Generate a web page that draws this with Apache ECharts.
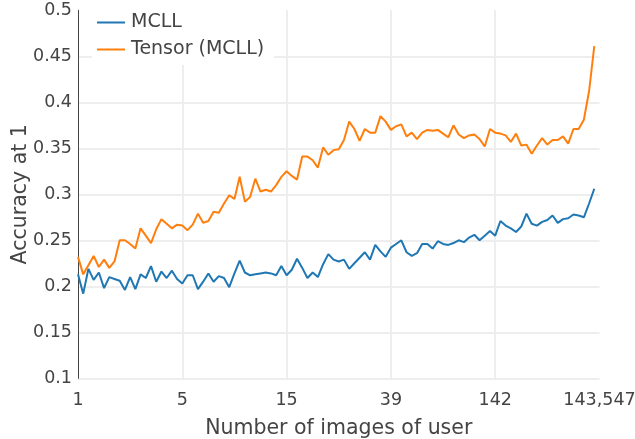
<!DOCTYPE html>
<html>
<head>
<meta charset="utf-8">
<script src="https://cdn.jsdelivr.net/npm/echarts@6/dist/echarts.min.js"></script>
<style>
  html, body { margin: 0; padding: 0; background: #fff; }
  #chart { width: 635px; height: 439px; }
</style>
</head>
<body>
<div id="chart"></div>
<script>
// 100 bins of users, sorted by number of images
var xTickLabels = ['1', '5', '15', '39', '142', '143,547'];

var mcll = [
  0.213, 0.192, 0.219, 0.207, 0.215, 0.198, 0.210, 0.208, 0.206, 0.196,
  0.210, 0.197, 0.213, 0.209, 0.222, 0.205, 0.216, 0.209, 0.217, 0.208,
  0.203, 0.212, 0.212, 0.197, 0.205, 0.214, 0.205, 0.211, 0.209, 0.199,
  0.214, 0.228, 0.215, 0.212, 0.213, 0.214, 0.215, 0.214, 0.212, 0.222,
  0.212, 0.218, 0.230, 0.220, 0.209, 0.215, 0.210, 0.224, 0.235, 0.229,
  0.227, 0.229, 0.219, 0.225, 0.231, 0.237, 0.229, 0.245, 0.238, 0.232,
  0.242, 0.246, 0.250, 0.237, 0.233, 0.236, 0.246, 0.246, 0.241, 0.249,
  0.246, 0.245, 0.247, 0.250, 0.248, 0.253, 0.256, 0.250, 0.255, 0.260,
  0.255, 0.271, 0.266, 0.263, 0.259, 0.265, 0.279, 0.268, 0.266, 0.270,
  0.272, 0.277, 0.269, 0.273, 0.274, 0.278, 0.277, 0.275, 0.290, 0.306
];

var tensorMcll = [
  0.232, 0.213, 0.223, 0.233, 0.221, 0.229, 0.220, 0.227, 0.250, 0.250,
  0.246, 0.241, 0.263, 0.255, 0.247, 0.262, 0.273, 0.268, 0.263, 0.267,
  0.266, 0.261, 0.267, 0.279, 0.269, 0.271, 0.281, 0.280, 0.290, 0.299,
  0.295, 0.319, 0.292, 0.297, 0.317, 0.303, 0.305, 0.303, 0.310, 0.319,
  0.325, 0.320, 0.316, 0.341, 0.341, 0.337, 0.329, 0.351, 0.343, 0.348,
  0.349, 0.359, 0.379, 0.371, 0.358, 0.371, 0.367, 0.367, 0.385, 0.379,
  0.370, 0.374, 0.376, 0.363, 0.367, 0.360, 0.367, 0.370, 0.369, 0.370,
  0.366, 0.362, 0.375, 0.365, 0.361, 0.364, 0.365, 0.360, 0.352, 0.371,
  0.367, 0.366, 0.364, 0.357, 0.366, 0.353, 0.354, 0.344, 0.353, 0.361,
  0.354, 0.359, 0.359, 0.363, 0.355, 0.371, 0.371, 0.381, 0.412, 0.461
];

function pairs(arr) {
  return arr.map(function (v, i) { return [i, v]; });
}

var font = 'DejaVu Sans';
var myChart = echarts.init(document.getElementById('chart'));
myChart.setOption({
  animation: false,
  textStyle: { fontFamily: font, color: '#444' },
  grid: {
    left: 78, right: 35.5, top: 10.3, bottom: 60.7,
    containLabel: false,
    outerBoundsMode: 'none'
  },
  legend: {
    orient: 'vertical',
    left: 92,
    top: 0,
    padding: [13, 10, 6, 5],
    backgroundColor: '#fff',
    icon: 'rect',
    itemWidth: 28,
    itemHeight: 2,
    itemGap: 8,
    textStyle: { fontFamily: font, fontSize: 19, color: '#444', padding: [0, 0, 0, 1] },
    data: ['MCLL', 'Tensor (MCLL)']
  },
  xAxis: {
    type: 'value',
    min: 0,
    max: 100,
    interval: 20,
    name: 'Number of images of user',
    nameLocation: 'middle',
    nameGap: 40,
    nameMoveOverlap: false,
    nameTextStyle: { fontFamily: font, fontSize: 20.5, color: '#444' },
    axisLine: { show: false },
    axisTick: { show: false },
    axisLabel: {
      margin: 13,
      fontFamily: font,
      fontSize: 17.5,
      color: '#444',
      formatter: function (v) { return xTickLabels[Math.round(v / 20)]; }
    },
    splitLine: {
      show: true,
      showMinLine: false,
      showMaxLine: false,
      lineStyle: { color: '#eee', width: 2 }
    }
  },
  yAxis: {
    type: 'value',
    min: 0.1,
    max: 0.5,
    interval: 0.05,
    name: 'Accuracy at 1',
    nameLocation: 'middle',
    nameGap: 47,
    nameMoveOverlap: false,
    nameTextStyle: { fontFamily: font, fontSize: 20.5, color: '#444' },
    axisLine: { show: true, lineStyle: { color: '#444', width: 1 } },
    axisTick: { show: false },
    axisLabel: { margin: 6, fontFamily: font, fontSize: 17.5, color: '#444' },
    splitLine: {
      show: true,
      showMaxLine: false,
      lineStyle: { color: '#eee', width: 2 }
    }
  },
  series: [
    {
      name: 'MCLL',
      type: 'line',
      symbol: 'none',
      data: pairs(mcll),
      lineStyle: { color: '#1f77b4', width: 2 },
      itemStyle: { color: '#1f77b4' }
    },
    {
      name: 'Tensor (MCLL)',
      type: 'line',
      symbol: 'none',
      data: pairs(tensorMcll),
      lineStyle: { color: '#ff7f0e', width: 2 },
      itemStyle: { color: '#ff7f0e' }
    }
  ]
});
</script>
</body>
</html>
